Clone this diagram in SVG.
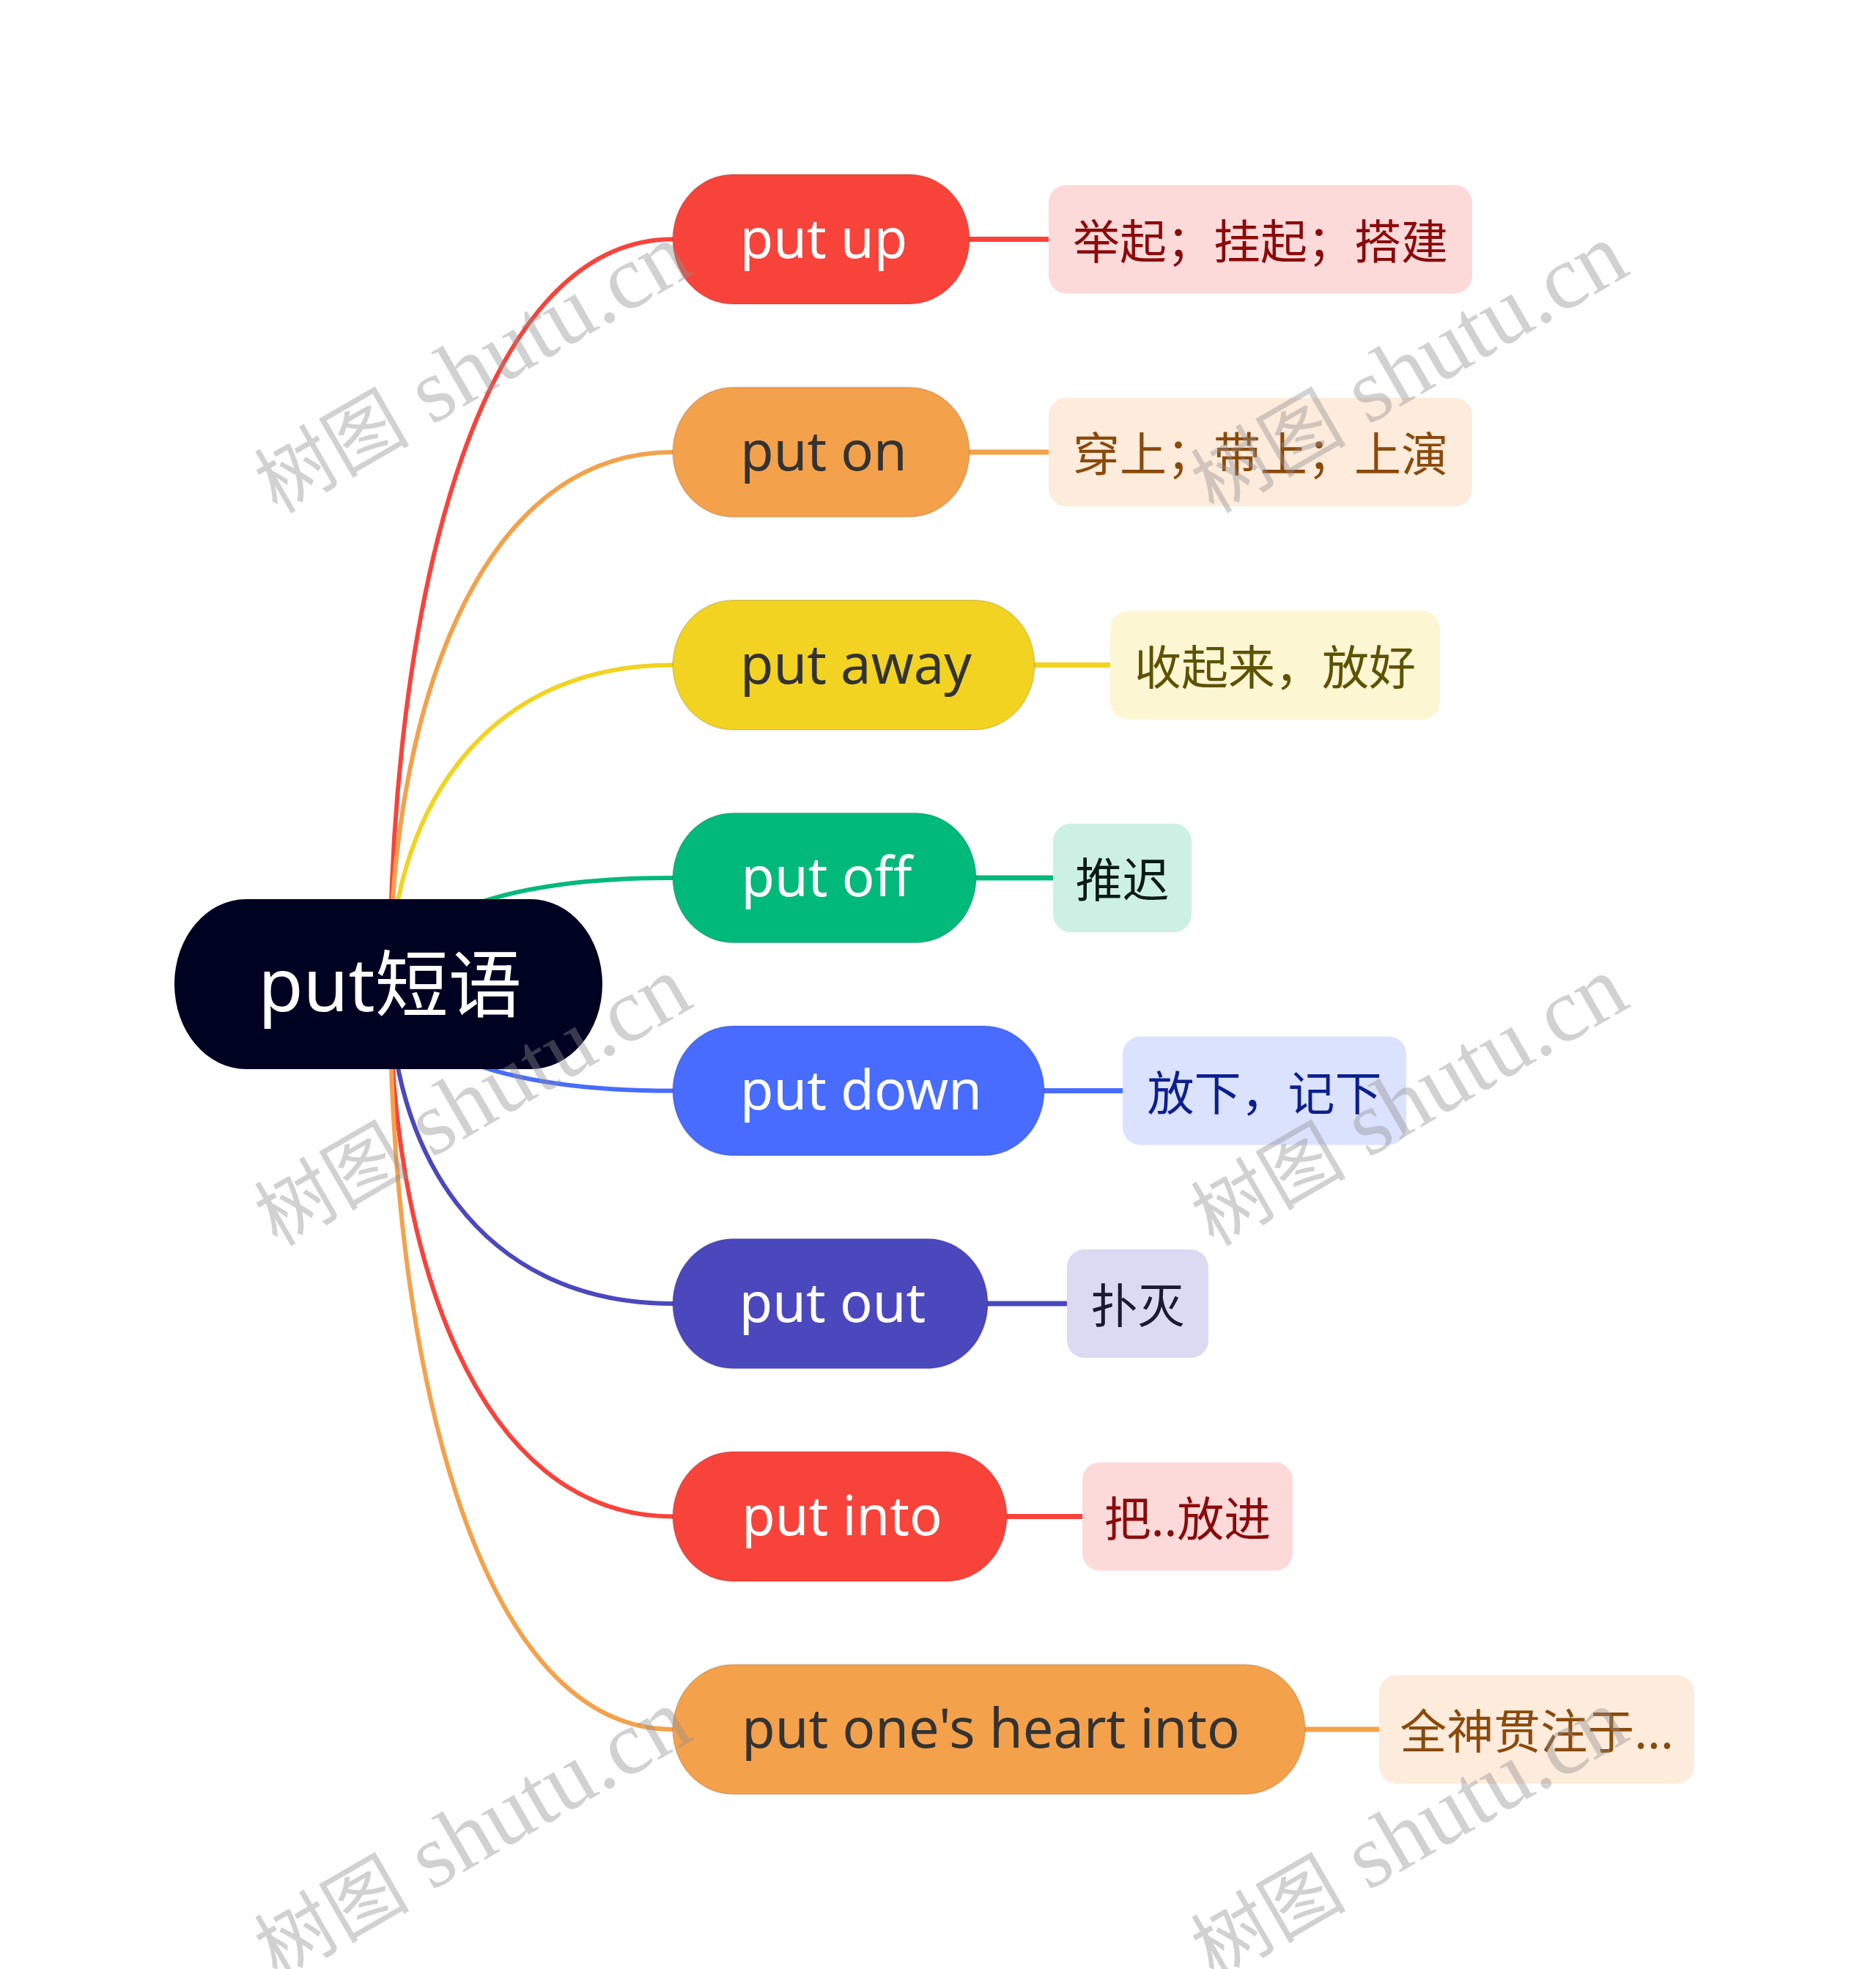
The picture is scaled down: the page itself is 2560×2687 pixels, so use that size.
<svg xmlns="http://www.w3.org/2000/svg" width="2560" height="2687" viewBox="0 0 2560 2687">
<style>
.c{fill:none;stroke-width:6;stroke-linecap:round}
.l{fill:none;stroke-width:7}
.n1{stroke:rgba(0,0,0,0.10);stroke-width:2}
.t1{font-family:"Noto Sans","Noto Sans CJK SC",sans-serif;font-size:74px;text-anchor:middle}
.t2{font-family:"Noto Sans CJK SC","Noto Sans",sans-serif;font-size:64px;text-anchor:middle}
.t0{font-family:"Noto Sans","Noto Sans CJK SC",sans-serif;font-size:100px;text-anchor:middle;fill:#ffffff}
.wm{font-family:"Liberation Serif","Noto Sans CJK SC",serif;font-size:124px;fill:#8f8f8f;opacity:0.4}
.wc{font-size:106px}
.red{fill:#F8433B}.ora{fill:#F4A14B}.yel{fill:#F2D321}.grn{fill:#00B97A}.blu{fill:#476CFF}.ind{fill:#4B48BE}
</style>
<rect width="2560" height="2687" fill="#ffffff"/>
<g id="connectors">
<path class="c" stroke="#F8433B" d="M532,1343 C532,834.75 648,326.5 918,326.5"/>
<path class="c" stroke="#F4A14B" d="M532,1343 C532,980 648,617 918,617"/>
<path class="c" stroke="#F2D321" d="M532,1343 C532,1125.25 648,907.5 918,907.5"/>
<path class="c" stroke="#00B97A" d="M532,1343 C532,1270.5 648,1198 918,1198"/>
<path class="c" stroke="#476CFF" d="M532,1343 C532,1415.75 648,1488.5 918,1488.5"/>
<path class="c" stroke="#4B48BE" d="M532,1343 C532,1561 648,1779 918,1779"/>
<path class="c" stroke="#F8433B" d="M532,1343 C532,1706.25 648,2069.5 918,2069.5"/>
<path class="c" stroke="#F4A14B" d="M532,1343 C532,1851.5 648,2360 918,2360"/>
<line class="l" stroke="#F8433B" x1="1318" y1="326.5" x2="1436" y2="326.5"/>
<line class="l" stroke="#F4A14B" x1="1318" y1="617" x2="1436" y2="617"/>
<line class="l" stroke="#F2D321" x1="1407" y1="907.5" x2="1520" y2="907.5"/>
<line class="l" stroke="#00B97A" x1="1327" y1="1198" x2="1442" y2="1198"/>
<line class="l" stroke="#476CFF" x1="1420" y1="1488.5" x2="1535" y2="1488.5"/>
<line class="l" stroke="#4B48BE" x1="1343" y1="1779" x2="1460" y2="1779"/>
<line class="l" stroke="#F8433B" x1="1369" y1="2069.5" x2="1482" y2="2069.5"/>
<line class="l" stroke="#F4A14B" x1="1776" y1="2360" x2="1889" y2="2360"/>
</g>
<g id="root">
<rect x="238" y="1227" width="584" height="232" rx="98" ry="116" fill="#000222"/>
<text class="t0" x="532" y="1380">put短语</text>
</g>
<g id="n-put-up"><rect class="red n1" x="918" y="238" width="405" height="177" rx="82" ry="88.5"/><text class="t1" x="1124" y="351.5" fill="#ffffff">put up</text></g>
<g id="n-put-on"><rect class="ora n1" x="918" y="528.5" width="405" height="177" rx="82" ry="88.5"/><text class="t1" x="1124" y="642" fill="#333333">put on</text></g>
<g id="n-put-away"><rect class="yel n1" x="918" y="819" width="494" height="177" rx="82" ry="88.5"/><text class="t1" x="1168" y="932.5" fill="#333333">put away</text></g>
<g id="n-put-off"><rect class="grn n1" x="918" y="1109.5" width="414" height="177" rx="82" ry="88.5"/><text class="t1" x="1128" y="1223" fill="#ffffff">put off</text></g>
<g id="n-put-down"><rect class="blu n1" x="918" y="1400" width="507" height="177" rx="82" ry="88.5"/><text class="t1" x="1175" y="1513.5" fill="#ffffff">put down</text></g>
<g id="n-put-out"><rect class="ind n1" x="918" y="1690.5" width="430" height="177" rx="82" ry="88.5"/><text class="t1" x="1136" y="1804" fill="#ffffff">put out</text></g>
<g id="n-put-into"><rect class="red n1" x="918" y="1981" width="456" height="177" rx="82" ry="88.5"/><text class="t1" x="1149" y="2094.5" fill="#ffffff">put into</text></g>
<g id="n-put-heart"><rect class="ora n1" x="918" y="2271.5" width="863" height="177" rx="82" ry="88.5"/><text class="t1" x="1352" y="2385" fill="#333333">put one's heart into</text></g>
<g id="d-put-up"><rect x="1431" y="252.5" width="578" height="148" rx="24" fill="#FDDADA"/><text class="t2" x="1720" y="352.5" fill="#8B0A0A">举起；挂起；搭建</text></g>
<g id="d-put-on"><rect x="1431" y="543" width="578" height="148" rx="24" fill="#FDEBDC"/><text class="t2" x="1720" y="643" fill="#8A4A0C">穿上；带上；上演</text></g>
<g id="d-put-away"><rect x="1515" y="833.5" width="450" height="148" rx="24" fill="#FDF6D3"/><text class="t2" x="1740" y="933.5" fill="#5E5200">收起来，放好</text></g>
<g id="d-put-off"><rect x="1437" y="1124" width="189" height="148" rx="24" fill="#CCF1E4"/><text class="t2" x="1531.5" y="1224" fill="#0B1A14">推迟</text></g>
<g id="d-put-down"><rect x="1532" y="1414.5" width="387" height="148" rx="24" fill="#DBE2FE"/><text class="t2" x="1725.5" y="1514.5" fill="#0C1F8F">放下，记下</text></g>
<g id="d-put-out"><rect x="1456" y="1705" width="193" height="148" rx="24" fill="#DBDAF2"/><text class="t2" x="1552.5" y="1805" fill="#1A1A33">扑灭</text></g>
<g id="d-put-into"><rect x="1477" y="1995.5" width="287" height="148" rx="24" fill="#FDDADA"/><text class="t2" x="1620.5" y="2095.5" fill="#8B0A0A">把..放进</text></g>
<g id="d-put-heart"><rect x="1882" y="2286" width="430" height="148" rx="24" fill="#FDEBDC"/><text class="t2" x="2097" y="2386" fill="#8A4A0C">全神贯注于...</text></g>
<g id="watermark">
<text class="wm" transform="translate(378,702) rotate(-30)"><tspan class="wc">树图</tspan> shutu.cn</text>
<text class="wm" transform="translate(1656,702) rotate(-30)"><tspan class="wc">树图</tspan> shutu.cn</text>
<text class="wm" transform="translate(378,1702) rotate(-30)"><tspan class="wc">树图</tspan> shutu.cn</text>
<text class="wm" transform="translate(1656,1702) rotate(-30)"><tspan class="wc">树图</tspan> shutu.cn</text>
<text class="wm" transform="translate(378,2702) rotate(-30)"><tspan class="wc">树图</tspan> shutu.cn</text>
<text class="wm" transform="translate(1656,2702) rotate(-30)"><tspan class="wc">树图</tspan> shutu.cn</text>
</g>
</svg>
